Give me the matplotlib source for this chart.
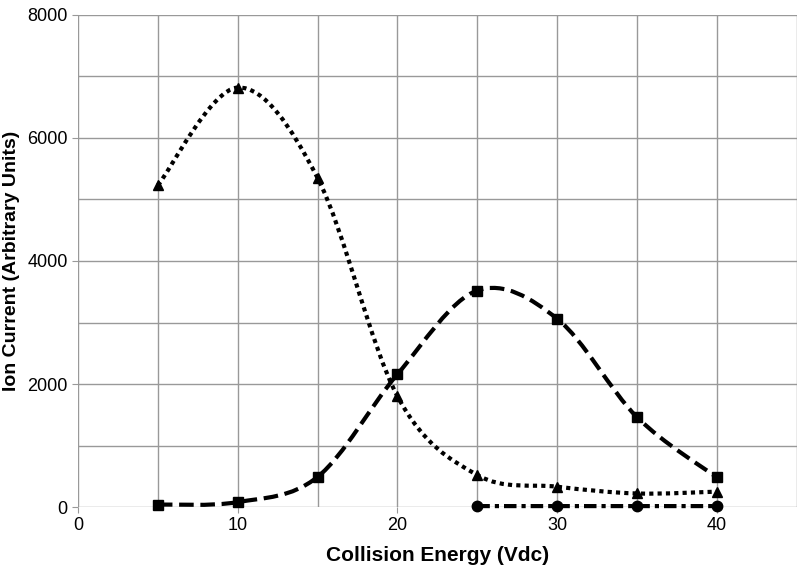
import matplotlib.pyplot as plt
from matplotlib.path import Path
from matplotlib.patches import PathPatch
from matplotlib import font_manager

energy = [5, 10, 15, 20, 25, 30, 35, 40]
tri_vals = [5230, 6820, 5350, 1800, 520, 330, 220, 250]
sq_vals = [40, 80, 490, 2160, 3520, 3060, 1460, 480]
circ_x = [25, 30, 35, 40]
circ_vals = [15, 15, 15, 15]

x_ticks = [0, 10, 20, 30, 40]
y_ticks = [0, 2000, 4000, 6000, 8000]

names = {f.name for f in font_manager.fontManager.ttflist}
fam = 'Liberation Sans Narrow' if 'Liberation Sans Narrow' in names else 'Liberation Sans'
plt.rcParams['font.family'] = [fam, 'DejaVu Sans']


# Excel-style smoothed line as cubic bezier path
def smooth_path(xs, ys):
    pts = list(zip(xs, ys))
    verts = [pts[0]]
    codes = [Path.MOVETO]
    n = len(pts)
    for i in range(n - 1):
        p0 = pts[i - 1] if i > 0 else pts[i]
        p1 = pts[i]
        p2 = pts[i + 1]
        p3 = pts[i + 2] if i + 2 < n else pts[i + 1]
        c1 = (p1[0] + (p2[0] - p0[0]) / 6, p1[1] + (p2[1] - p0[1]) / 6)
        c2 = (p2[0] - (p3[0] - p1[0]) / 6, p2[1] - (p3[1] - p1[1]) / 6)
        verts += [c1, c2, p2]
        codes += [Path.CURVE4] * 3
    return Path(verts, codes)


fig = plt.figure(figsize=(8, 5.74), dpi=100)
ax = fig.add_axes([0.0975, 0.1167, 0.8985, 0.8572])

ax.set_xlim(0, 45)
ax.set_ylim(0, 8000)
ax.set_xticks(x_ticks)
ax.set_xticks(range(5, 46, 10), minor=True)
ax.set_yticks(y_ticks)
ax.set_yticks(range(1000, 8000, 2000), minor=True)
ax.grid(True, which='both', color='#999999', linewidth=1)
ax.set_axisbelow(True)
for s in ax.spines.values():
    s.set_visible(False)
ax.tick_params(which='both', length=4, color='#999999', labelsize=13)
ax.tick_params(which='minor', length=0)

series = [
    (energy, tri_vals, '^', (0, (1, 1))),
    (energy, sq_vals, 's', (0, (3.5, 1.6))),
    (circ_x, circ_vals, 'o', (0, (3, 1.2, 1, 1.2))),
]
for xs, ys, mk, ls in series:
    patch = PathPatch(smooth_path(xs, ys), facecolor='none', edgecolor='black',
                      linewidth=3, linestyle=ls, transform=ax.transData, clip_on=False)
    ax.add_patch(patch)
    ax.plot(xs, ys, linestyle='none', marker=mk, color='black', markersize=7.5,
            clip_on=False)

ax.set_xlabel('Collision Energy (Vdc)', fontsize=15, fontweight='bold', labelpad=8)
ax.set_ylabel('Ion Current (Arbitrary Units)', fontsize=14, fontweight='bold')
ax.yaxis.set_label_coords(-0.081, 0.5)

fig.savefig('out.png', dpi=100)
